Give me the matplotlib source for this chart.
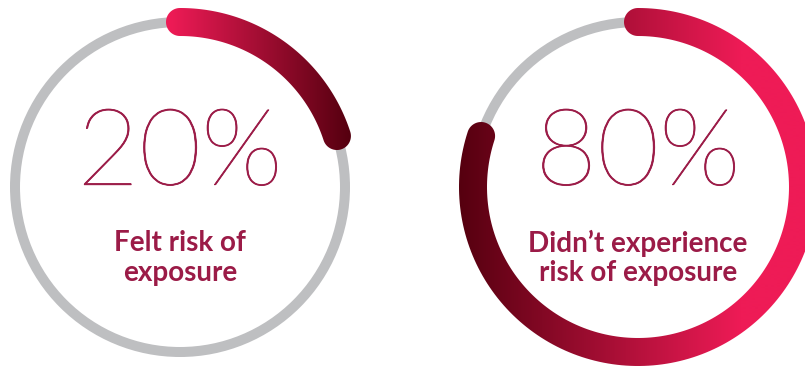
import numpy as np
import matplotlib
matplotlib.use("Agg")
import matplotlib.pyplot as plt
import matplotlib.patheffects as pe
from matplotlib.patches import Circle, Polygon
from matplotlib.colors import to_rgb

# Share of respondents, one ring per answer
values = [20, 80]
labels = ["Felt risk of\nexposure", "Didn\u2019t experience\nrisk of exposure"]

W, H = 805, 370
PINK = "#ee1b56"
DARK = "#55000f"
GREY = "#bebfc1"
TEXT = "#9b1b47"

# ring layout in pixel coordinates (y grows downward)
centers = [(180, 187), (638, 187)]
R = 165
ARC_W = 28
GREY_W = 10
# horizontal gradient spans: (x where colour starts, start colour, x where it ends, end colour)
grads = [(170, PINK, 350, DARK), (458, DARK, 740, PINK)]


def arc_polygon(cx, cy, r, width, frac, n=200):
    """Annular arc clockwise from 12 o'clock with round caps."""
    hw = width / 2
    t = np.linspace(0, 2 * np.pi * frac, n)
    ro, ri = r + hw, r - hw
    outer = np.column_stack([cx + ro * np.sin(t), cy - ro * np.cos(t)])
    inner = np.column_stack([cx + ri * np.sin(t[::-1]), cy - ri * np.cos(t[::-1])])
    phi = np.linspace(0, np.pi, 40)

    def cap(tt, sign):
        c = np.array([cx + r * np.sin(tt), cy - r * np.cos(tt)])
        rad = np.array([np.sin(tt), -np.cos(tt)])
        tan = np.array([np.cos(tt), np.sin(tt)])
        return c + sign * hw * (np.cos(phi)[:, None] * rad + np.sin(phi)[:, None] * tan)

    end_cap = cap(t[-1], 1)
    start_cap = cap(t[0], -1)
    return np.vstack([outer, end_cap, inner, start_cap])


fig = plt.figure(figsize=(W / 100, H / 100), dpi=100)
ax = fig.add_axes([0, 0, 1, 1])
ax.set_xlim(0, W)
ax.set_ylim(H, 0)
ax.set_aspect("equal")
ax.axis("off")

xs = np.arange(W) + 0.5
for (cx, cy), v, lab, (g0, c0, g1, c1) in zip(centers, values, labels, grads):
    ax.add_patch(Circle((cx, cy), R, fill=False, ec=GREY, lw=GREY_W * 0.72))

    a, b = np.array(to_rgb(c0)), np.array(to_rgb(c1))
    f = np.clip((xs - g0) / (g1 - g0), 0, 1)[:, None]
    img = (a + (b - a) * f)[None, :, :]
    im = ax.imshow(img, extent=[0, W, H, 0], aspect="auto", interpolation="bilinear", zorder=2)
    poly = Polygon(arc_polygon(cx, cy, R, ARC_W, v / 100), closed=True, fc="none", ec="none")
    ax.add_patch(poly)
    im.set_clip_path(poly)

    ax.text(cx, cy - 31, f"{v}%", ha="center", va="center", fontsize=77,
            family="Lato", fontweight="light", color=TEXT, zorder=3,
            path_effects=[pe.withStroke(linewidth=0.6, foreground=TEXT)])
    ax.text(cx, cy + 71, lab, ha="center", va="center", fontsize=20,
            family="Lato", fontweight="bold", color=TEXT, linespacing=1.15, zorder=3)

ax.set_xlim(0, W)
ax.set_ylim(H, 0)
fig.savefig("out.png", dpi=100)
